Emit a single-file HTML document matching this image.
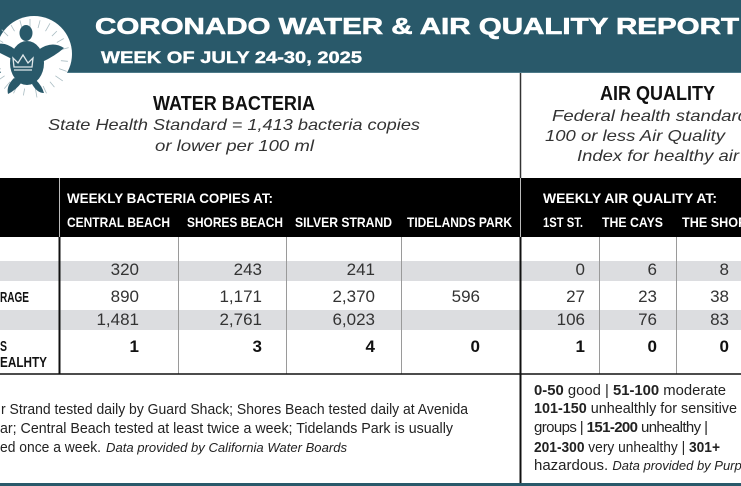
<!DOCTYPE html>
<html>
<head>
<meta charset="utf-8">
<style>
  html,body{margin:0;padding:0;background:#fff;}
  svg{display:block;}
  text{font-family:"Liberation Sans", sans-serif;}
</style>
</head>
<body>
<svg width="741" height="486" viewBox="0 0 741 486" xmlns="http://www.w3.org/2000/svg">
  <rect x="0" y="0" width="741" height="486" fill="#ffffff"/>
  <!-- header band -->
  <rect x="0" y="0" width="741" height="73" fill="#29596a"/>
  <rect x="0" y="72" width="741" height="1" fill="#4d7a89"/>

  <!-- logo -->
  <circle cx="34" cy="54" r="38" fill="#ffffff"/>
  <g stroke="#a9bcc2" stroke-width="0.8">
    <line x1="30" y1="27" x2="30" y2="19" transform="rotate(0 30 58)"/>
    <line x1="30" y1="27" x2="30" y2="19" transform="rotate(15 30 58)"/>
    <line x1="30" y1="27" x2="30" y2="18" transform="rotate(30 30 58)"/>
    <line x1="30" y1="27" x2="30" y2="20" transform="rotate(45 30 58)"/>
    <line x1="30" y1="27" x2="30" y2="19" transform="rotate(60 30 58)"/>
    <line x1="30" y1="27" x2="30" y2="18" transform="rotate(75 30 58)"/>
    <line x1="30" y1="27" x2="30" y2="20" transform="rotate(95 30 58)"/>
    <line x1="30" y1="27" x2="30" y2="19" transform="rotate(110 30 58)"/>
    <line x1="30" y1="27" x2="30" y2="18" transform="rotate(125 30 58)"/>
    <line x1="30" y1="27" x2="30" y2="20" transform="rotate(140 30 58)"/>
    <line x1="30" y1="27" x2="30" y2="19" transform="rotate(155 30 58)"/>
    <line x1="30" y1="27" x2="30" y2="18" transform="rotate(170 30 58)"/>
    <line x1="30" y1="27" x2="30" y2="20" transform="rotate(190 30 58)"/>
    <line x1="30" y1="27" x2="30" y2="19" transform="rotate(205 30 58)"/>
    <line x1="30" y1="27" x2="30" y2="18" transform="rotate(220 30 58)"/>
    <line x1="30" y1="27" x2="30" y2="20" transform="rotate(235 30 58)"/>
    <line x1="30" y1="27" x2="30" y2="19" transform="rotate(250 30 58)"/>
    <line x1="30" y1="27" x2="30" y2="18" transform="rotate(265 30 58)"/>
    <line x1="30" y1="27" x2="30" y2="20" transform="rotate(285 30 58)"/>
    <line x1="30" y1="27" x2="30" y2="19" transform="rotate(300 30 58)"/>
    <line x1="30" y1="27" x2="30" y2="18" transform="rotate(315 30 58)"/>
    <line x1="30" y1="27" x2="30" y2="20" transform="rotate(330 30 58)"/>
    <line x1="30" y1="27" x2="30" y2="19" transform="rotate(345 30 58)"/>
  </g>
  <g fill="#29596a">
    <ellipse cx="26" cy="33" rx="6.5" ry="8"/>
    <ellipse cx="27" cy="63" rx="17" ry="22"/>
    <path d="M38,50 Q52,40 64,48 Q55,56 42,62 Z"/>
    <path d="M16,50 Q6,42 -2,44 L-2,52 Q6,56 14,60 Z"/>
    <path d="M14,78 Q6,86 8,94 Q16,90 22,82 Z"/>
    <path d="M36,80 Q42,86 44,93 Q37,93 32,84 Z"/>
  </g>
  <g fill="none" stroke="#dfe7ea" stroke-width="1.3">
    <path d="M14,67 L13,58 L18,63 L23,55 L28,63 L33,58 L32,67 Z"/>
    <line x1="14" y1="70" x2="32" y2="70"/>
  </g>

  <!-- title -->
  <text x="95" y="34" font-size="23" font-weight="bold" fill="#ffffff" stroke="#ffffff" stroke-width="0.6" textLength="644" lengthAdjust="spacingAndGlyphs">CORONADO WATER &amp; AIR QUALITY REPORT</text>
  <text x="101" y="63" font-size="17" font-weight="bold" fill="#ffffff" stroke="#ffffff" stroke-width="0.4" textLength="261" lengthAdjust="spacingAndGlyphs">WEEK OF JULY 24-30, 2025</text>

  <!-- upper section -->
  <text x="153" y="110" font-size="20" font-weight="bold" fill="#111" textLength="162" lengthAdjust="spacingAndGlyphs">WATER BACTERIA</text>
  <text x="48" y="130" font-size="16" font-style="italic" fill="#333" textLength="372" lengthAdjust="spacingAndGlyphs">State Health Standard  = 1,413 bacteria copies</text>
  <text x="155" y="151" font-size="16" font-style="italic" fill="#333" textLength="159" lengthAdjust="spacingAndGlyphs">or lower per 100 ml</text>

  <text x="600" y="100" font-size="20" font-weight="bold" fill="#111" textLength="115" lengthAdjust="spacingAndGlyphs">AIR QUALITY</text>
  <text x="552" y="121" font-size="16" font-style="italic" fill="#333" textLength="196" lengthAdjust="spacingAndGlyphs">Federal health standard</text>
  <text x="545" y="141" font-size="16" font-style="italic" fill="#333" textLength="180" lengthAdjust="spacingAndGlyphs">100 or less Air Quality</text>
  <text x="577" y="161" font-size="16" font-style="italic" fill="#333" textLength="162" lengthAdjust="spacingAndGlyphs">Index for healthy air</text>

  <!-- table header -->
  <rect x="0" y="178" width="741" height="59" fill="#000"/>
  <line x1="59.5" y1="178" x2="59.5" y2="237" stroke="#bbb" stroke-width="1"/>
  <line x1="520.5" y1="178" x2="520.5" y2="237" stroke="#bbb" stroke-width="1"/>

  <g fill="#fff" font-size="14" font-weight="bold">
    <text x="67" y="203" textLength="206" lengthAdjust="spacingAndGlyphs">WEEKLY BACTERIA COPIES AT:</text>
    <text x="67" y="227" textLength="103" lengthAdjust="spacingAndGlyphs">CENTRAL BEACH</text>
    <text x="187" y="227" textLength="96" lengthAdjust="spacingAndGlyphs">SHORES BEACH</text>
    <text x="295" y="227" textLength="97" lengthAdjust="spacingAndGlyphs">SILVER STRAND</text>
    <text x="407" y="227" textLength="105" lengthAdjust="spacingAndGlyphs">TIDELANDS PARK</text>
    <text x="543" y="203" textLength="174" lengthAdjust="spacingAndGlyphs">WEEKLY AIR QUALITY AT:</text>
    <text x="543" y="227" textLength="40" lengthAdjust="spacingAndGlyphs">1ST ST.</text>
    <text x="602" y="227" textLength="61" lengthAdjust="spacingAndGlyphs">THE CAYS</text>
    <text x="682" y="227" textLength="82" lengthAdjust="spacingAndGlyphs">THE SHORES</text>
  </g>

  <!-- body bands -->
  <rect x="0" y="261" width="741" height="20" fill="#dcdde0"/>
  <rect x="0" y="310" width="741" height="20" fill="#dcdde0"/>

  <!-- body lines -->
  <g stroke="#9a9a9a" stroke-width="1">
    <line x1="178.5" y1="237" x2="178.5" y2="374"/>
    <line x1="286.5" y1="237" x2="286.5" y2="374"/>
    <line x1="401.5" y1="237" x2="401.5" y2="374"/>
    <line x1="599.5" y1="237" x2="599.5" y2="374"/>
    <line x1="676.5" y1="237" x2="676.5" y2="374"/>
  </g>
  <line x1="59.5" y1="237" x2="59.5" y2="374" stroke="#111" stroke-width="2"/>
  <line x1="0" y1="374" x2="741" y2="374" stroke="#111" stroke-width="1.6"/>
  <line x1="520.5" y1="73" x2="520.5" y2="178" stroke="#333" stroke-width="1.5"/>
  <line x1="520.5" y1="237" x2="520.5" y2="483" stroke="#111" stroke-width="2"/>

  <!-- labels -->
  <g fill="#111" font-size="15" font-weight="bold">
    <text x="0" y="302" textLength="29" lengthAdjust="spacingAndGlyphs">RAGE</text>
    <text x="0" y="351" textLength="7" lengthAdjust="spacingAndGlyphs">S</text>
    <text x="0" y="367" textLength="47" lengthAdjust="spacingAndGlyphs">EALHTY</text>
  </g>

  <!-- numbers -->
  <g fill="#333" font-size="17" text-anchor="end">
    <text x="139" y="275">320</text>
    <text x="262" y="275">243</text>
    <text x="375" y="275">241</text>
    <text x="585" y="275">0</text>
    <text x="657" y="275">6</text>
    <text x="729" y="275">8</text>

    <text x="139" y="302">890</text>
    <text x="262" y="302">1,171</text>
    <text x="375" y="302">2,370</text>
    <text x="480" y="302">596</text>
    <text x="585" y="302">27</text>
    <text x="657" y="302">23</text>
    <text x="729" y="302">38</text>

    <text x="139" y="325">1,481</text>
    <text x="262" y="325">2,761</text>
    <text x="375" y="325">6,023</text>
    <text x="585" y="325">106</text>
    <text x="657" y="325">76</text>
    <text x="729" y="325">83</text>
  </g>
  <g fill="#111" font-size="17" font-weight="bold" text-anchor="end">
    <text x="139" y="352">1</text>
    <text x="262" y="352">3</text>
    <text x="375" y="352">4</text>
    <text x="480" y="352">0</text>
    <text x="585" y="352">1</text>
    <text x="657" y="352">0</text>
    <text x="729" y="352">0</text>
  </g>

  <!-- footnotes left -->
  <g fill="#222" font-size="15">
    <text x="1" y="414" textLength="467" lengthAdjust="spacingAndGlyphs">r Strand tested daily by Guard Shack; Shores Beach tested daily at Avenida</text>
    <text x="0" y="433" textLength="453" lengthAdjust="spacingAndGlyphs">ar; Central Beach tested at least twice a week; Tidelands Park is usually</text>
    <text x="0" y="452" textLength="101" lengthAdjust="spacingAndGlyphs">ed once a week.</text>
    <text x="106" y="452" font-size="13" font-style="italic" textLength="241" lengthAdjust="spacingAndGlyphs">Data provided by California Water Boards</text>
  </g>

  <!-- footnotes right -->
  <g fill="#222" font-size="15">
    <text x="534" y="395" textLength="192" lengthAdjust="spacingAndGlyphs"><tspan font-weight="bold">0-50</tspan> good | <tspan font-weight="bold">51-100</tspan> moderate</text>
    <text x="534" y="413" textLength="203" lengthAdjust="spacingAndGlyphs"><tspan font-weight="bold">101-150</tspan> unhealthly for sensitive</text>
    <text x="534" y="432" textLength="174" lengthAdjust="spacing">groups | <tspan font-weight="bold">151-200</tspan> unhealthy |</text>
    <text x="534" y="452" textLength="186" lengthAdjust="spacingAndGlyphs"><tspan font-weight="bold">201-300</tspan> very unhealthy | <tspan font-weight="bold">301+</tspan></text>
    <text x="534" y="470">hazardous. <tspan font-size="13" font-style="italic">Data provided by Purple Air</tspan></text>
  </g>

  <!-- bottom strip -->
  <rect x="0" y="483" width="741" height="3" fill="#29596a"/>
</svg>
</body>
</html>
